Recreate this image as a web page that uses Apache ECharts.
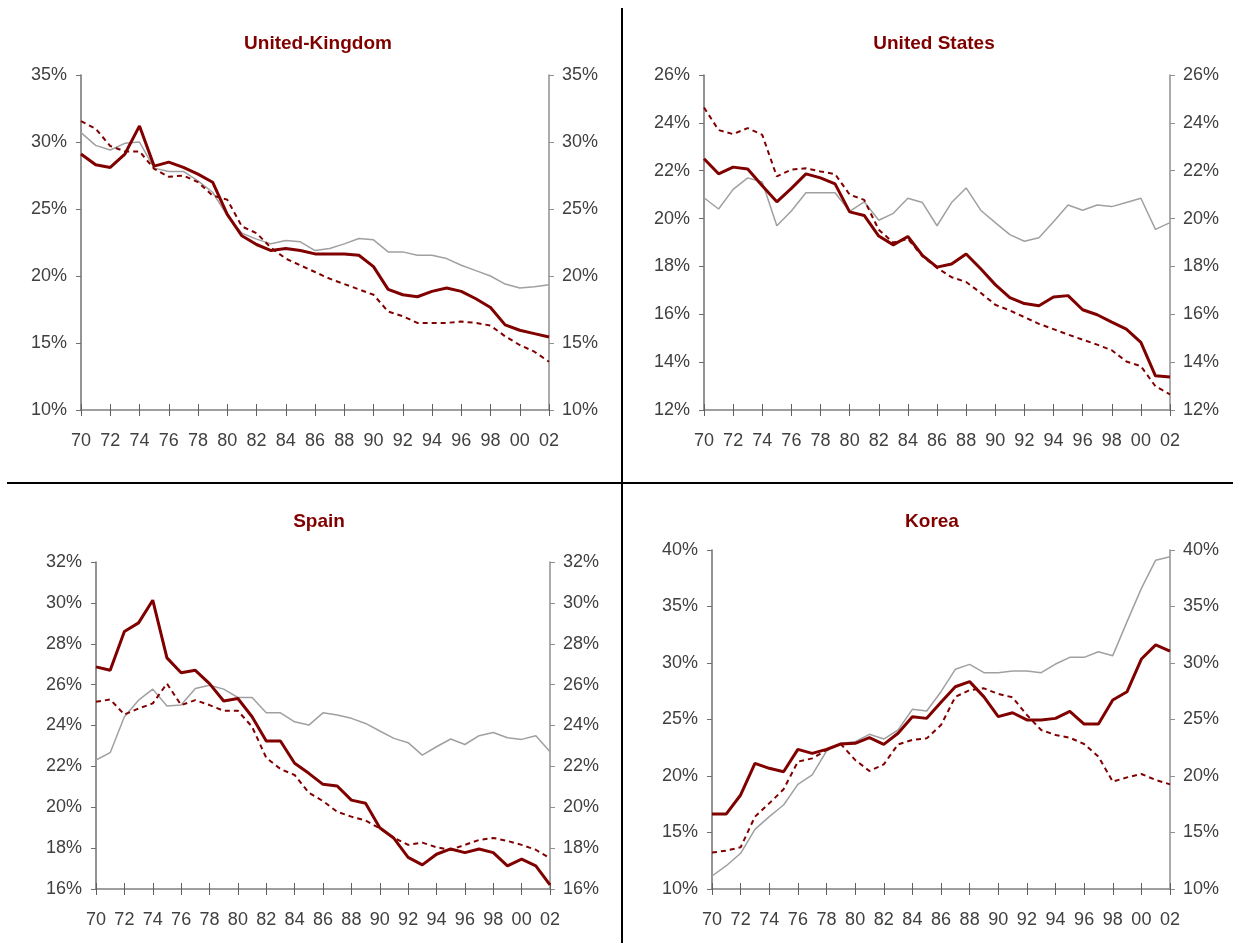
<!DOCTYPE html>
<html>
<head>
<meta charset="utf-8">
<title>Panels</title>
<script src="https://cdn.jsdelivr.net/npm/echarts@6/dist/echarts.min.js"></script>
<style>
  html, body { margin: 0; padding: 0; background: #fff; }
  #chart { width: 1233px; height: 943px; }
</style>
</head>
<body>
<div id="chart"></div>
<script>
// years 1970 - 2002
var years = ['70','71','72','73','74','75','76','77','78','79','80','81','82','83','84','85','86',
             '87','88','89','90','91','92','93','94','95','96','97','98','99','00','01','02'];

var countries = ['United-Kingdom', 'United States', 'Spain', 'Korea'];

var ukThick = [29.1,28.3,28.1,29.1,31.2,28.2,28.5,28.1,27.6,27.0,24.6,23.0,22.35,21.9,22.05,21.9,21.65,21.65,21.65,21.55,20.7,19.0,18.6,18.45,18.85,19.1,18.85,18.3,17.65,16.35,15.95,15.7,15.45];
var ukDashed = [31.55,31.0,29.7,29.3,29.3,28.0,27.4,27.5,27.0,26.0,25.7,23.7,23.2,22.1,21.3,20.8,20.3,19.8,19.4,19.0,18.6,17.35,17.0,16.5,16.5,16.5,16.6,16.5,16.3,15.5,14.85,14.35,13.6];
var ukGray = [30.7,29.75,29.4,29.9,30.0,28.05,27.8,27.8,27.1,26.25,24.5,23.2,22.75,22.4,22.65,22.55,21.9,22.05,22.4,22.8,22.7,21.8,21.8,21.55,21.55,21.3,20.8,20.4,20.0,19.4,19.1,19.2,19.35];

var usThick = [22.5,21.87,22.15,22.07,21.37,20.7,21.26,21.87,21.7,21.45,20.28,20.13,19.27,18.9,19.25,18.46,17.97,18.1,18.52,17.9,17.24,16.7,16.45,16.36,16.72,16.78,16.19,15.98,15.67,15.38,14.83,13.43,13.38];
var usDashed = [24.64,23.7,23.53,23.78,23.5,21.76,22.05,22.1,21.97,21.86,21.0,20.78,19.53,19.0,19.15,18.43,17.94,17.55,17.35,16.9,16.4,16.16,15.88,15.6,15.38,15.15,14.94,14.73,14.5,14.03,13.83,12.99,12.65];
var usGray = [20.87,20.4,21.22,21.7,21.53,19.7,20.32,21.08,21.08,21.08,20.3,20.7,19.93,20.22,20.85,20.67,19.7,20.67,21.28,20.35,19.83,19.33,19.05,19.2,19.87,20.57,20.35,20.57,20.5,20.67,20.85,19.55,19.83];

var esThick = [26.87,26.7,28.6,29.02,30.13,27.31,26.58,26.7,26.05,25.2,25.32,24.43,23.24,23.24,22.15,21.66,21.12,21.04,20.35,20.2,19.0,18.48,17.55,17.18,17.7,17.96,17.78,17.96,17.78,17.13,17.46,17.13,16.2];
var esDashed = [25.16,25.27,24.54,24.83,25.08,26.05,25.0,25.24,25.0,24.72,24.72,23.94,22.42,21.87,21.58,20.71,20.3,19.78,19.54,19.35,18.97,18.5,18.16,18.27,18.04,17.92,18.16,18.4,18.5,18.35,18.16,17.92,17.5];
var esGray = [22.31,22.67,24.43,25.24,25.78,24.95,25.0,25.81,25.97,25.78,25.37,25.37,24.62,24.62,24.18,24.02,24.62,24.51,24.35,24.1,23.73,23.37,23.16,22.55,22.96,23.34,23.07,23.5,23.66,23.4,23.32,23.5,22.72];

var krThick = [16.64,16.64,18.32,21.12,20.68,20.38,22.36,22.0,22.36,22.83,22.89,23.39,22.8,23.78,25.25,25.1,26.52,27.9,28.35,27.0,25.25,25.6,24.96,24.96,25.1,25.72,24.6,24.6,26.73,27.46,30.35,31.6,31.06];
var krDashed = [13.22,13.4,13.69,16.4,17.58,18.82,21.27,21.56,22.3,22.83,21.42,20.44,21.03,22.8,23.19,23.33,24.51,27.0,27.6,27.76,27.26,26.96,25.4,24.07,23.63,23.39,22.83,21.71,19.5,19.88,20.18,19.65,19.26];
var krGray = [11.15,12.06,13.16,15.28,16.4,17.43,19.26,20.09,22.21,22.89,23.04,23.69,23.27,24.07,25.9,25.75,27.46,29.44,29.88,29.14,29.14,29.29,29.29,29.14,29.91,30.5,30.5,31.0,30.65,33.66,36.6,39.1,39.4];

// y scale per panel: min, max, step
var yMin = [10, 12, 16, 10];
var yMax = [35, 26, 32, 40];
var yStep = [5, 2, 2, 5];

var panelData = [
    [ukThick, ukDashed, ukGray],
    [usThick, usDashed, usGray],
    [esThick, esDashed, esGray],
    [krThick, krDashed, krGray]
];

// pixel boxes of the four plots, title centre
var boxes = [
    {left: 81, top: 75, width: 468, height: 335, titleX: 313, titleY: 29},
    {left: 704, top: 75, width: 466, height: 335, titleX: 929, titleY: 29},
    {left: 96, top: 562, width: 454, height: 327, titleX: 314, titleY: 507},
    {left: 712, top: 550, width: 458, height: 339, titleX: 927, titleY: 507}
];

var labelStyle = {color: '#404040', fontSize: 18, fontFamily: 'Liberation Sans, Arial, sans-serif'};

var option = {
    animation: false,
    backgroundColor: '#fff',
    title: [],
    grid: [],
    xAxis: [],
    yAxis: [],
    series: [],
    graphic: [
        {type: 'line', shape: {x1: 622, y1: 8, x2: 622, y2: 943}, style: {stroke: '#000', lineWidth: 2}},
        {type: 'line', shape: {x1: 7, y1: 483, x2: 1233, y2: 483}, style: {stroke: '#000', lineWidth: 2}}
    ]
};

countries.forEach(function (name, i) {
    var b = boxes[i];
    option.title.push({
        text: name,
        left: b.titleX,
        top: b.titleY,
        textAlign: 'center',
        textStyle: {color: '#800000', fontSize: 19, fontWeight: 'bold', fontFamily: 'Liberation Sans, Arial, sans-serif'}
    });
    option.grid.push({left: b.left, top: b.top, width: b.width, height: b.height, containLabel: false});

    // labelled axis with outward ticks
    option.xAxis.push({
        type: 'category', gridIndex: i, data: years, boundaryGap: false,
        axisLine: {lineStyle: {color: '#808080', width: 1.5}},
        axisTick: {interval: 1, length: 6, lineStyle: {color: '#606060'}},
        axisLabel: Object.assign({interval: 1, margin: 22}, labelStyle),
        splitLine: {show: false}
    });
    // second axis only for the inward half of the cross ticks
    option.xAxis.push({
        type: 'category', gridIndex: i, data: years, boundaryGap: false, position: 'bottom',
        axisLine: {show: false},
        axisTick: {inside: true, interval: 1, length: 6, lineStyle: {color: '#606060'}},
        axisLabel: {show: false},
        splitLine: {show: false}
    });

    var yBase = {
        type: 'value', gridIndex: i, min: yMin[i], max: yMax[i], interval: yStep[i],
        splitLine: {show: false}
    };
    option.yAxis.push(Object.assign({}, yBase, {
        position: 'left',
        axisLine: {show: true, lineStyle: {color: '#707070', width: 1.5}},
        axisTick: {show: true, length: 5, lineStyle: {color: '#707070'}},
        axisLabel: Object.assign({formatter: '{value}%', margin: 14}, labelStyle)
    }));
    option.yAxis.push(Object.assign({}, yBase, {
        position: 'right',
        axisLine: {show: true, lineStyle: {color: '#909090', width: 1.5}},
        axisTick: {show: true, length: 5, lineStyle: {color: '#909090'}},
        axisLabel: Object.assign({formatter: '{value}%', margin: 13}, labelStyle)
    }));

    var d = panelData[i];
    option.series.push({
        type: 'line', xAxisIndex: i * 2, yAxisIndex: i * 2, data: d[2], symbol: 'none',
        lineStyle: {color: '#a0a0a0', width: 1.5}, z: 2
    });
    option.series.push({
        type: 'line', xAxisIndex: i * 2, yAxisIndex: i * 2, data: d[1], symbol: 'none',
        lineStyle: {color: '#800000', width: 2, type: [5, 4]}, z: 3
    });
    option.series.push({
        type: 'line', xAxisIndex: i * 2, yAxisIndex: i * 2, data: d[0], symbol: 'none',
        lineStyle: {color: '#800000', width: 3}, z: 4
    });
});

var myChart = echarts.init(document.getElementById('chart'));
myChart.setOption(option);
</script>
</body>
</html>
